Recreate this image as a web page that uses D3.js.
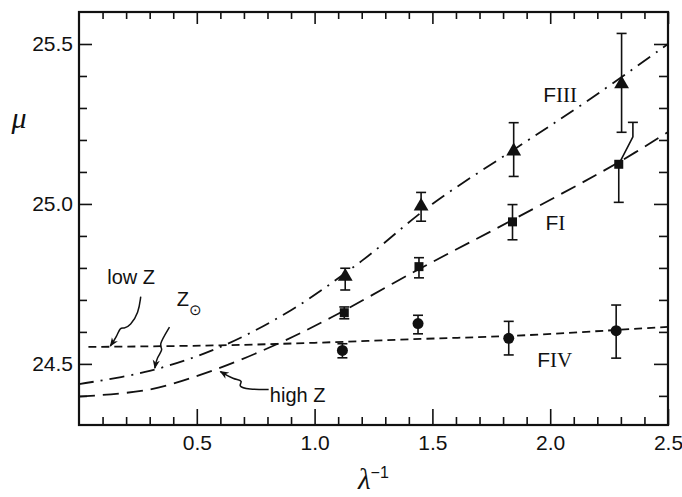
<!DOCTYPE html>
<html>
<head>
<meta charset="utf-8">
<title>mu vs inverse lambda</title>
<script src="https://cdn.jsdelivr.net/npm/d3@7"></script>
<style>
  body { margin: 0; background: #fff; }
  text { fill: #111; }
</style>
</head>
<body>
<div id="graphDiv"></div>
<script>

var width = 682,
    height = 497,
    margin = {top: 12, right: 14, bottom: 72, left: 79};

// data points (x = 1/lambda, y = mu)
var fiX   = [1.126, 1.443, 1.840, 2.291],
    fiY   = [24.660, 24.804, 24.944, 25.124],
    fiLo  = [24.641, 24.769, 24.888, 25.005],
    fiHi  = [24.678, 24.832, 24.998, 25.255];

var fiiiX  = [1.130, 1.452, 1.845, 2.303],
    fiiiY  = [24.773, 24.993, 25.165, 25.375],
    fiiiLo = [24.731, 24.946, 25.086, 25.224],
    fiiiHi = [24.799, 25.036, 25.254, 25.533];

var fivX  = [1.118, 1.439, 1.824, 2.280],
    fivY  = [24.542, 24.626, 24.580, 24.604],
    fivLo = [24.519, 24.594, 24.528, 24.518],
    fivHi = [24.563, 24.652, 24.633, 24.684];

// model curves
var solarX = [0, 0.3, 0.6, 0.9, 1.2, 1.5, 1.85, 2.15, 2.5],
    solarY = [24.437, 24.478, 24.553, 24.668, 24.822, 25.0, 25.172, 25.318, 25.5];

var highZX = [0, 0.3, 0.57, 0.85, 1.07, 1.44, 1.84, 2.29, 2.5],
    highZY = [24.398, 24.42, 24.48, 24.565, 24.645, 24.795, 24.95, 25.13, 25.225];

var lowZX = [0.04, 0.6, 1.0, 1.45, 1.85, 2.5],
    lowZY = [24.553, 24.558, 24.566, 24.578, 24.588, 24.616];

var xMajor = [0.5, 1.0, 1.5, 2.0, 2.5],
    yMajor = [24.5, 25.0, 25.5];

var svg = d3.select('#graphDiv').append('svg')
    .attr('width', width)
    .attr('height', height);

var x = d3.scaleLinear().domain([0, 2.5]).range([margin.left, width - margin.right]);
var y = d3.scaleLinear().domain([24.309, 25.6]).range([height - margin.bottom, margin.top]);

var xMinor = d3.range(1, 25).map(function(i) { return i / 10; })
        .filter(function(v) { return Math.abs(v * 2 - Math.round(v * 2)) > 1e-6; }),
    yMinor = d3.range(244, 256).map(function(i) { return i / 10; })
        .filter(function(v) { return Math.abs(v * 2 - Math.round(v * 2)) > 1e-6; });

function drawAxes() {
    var g = svg.append('g').attr('class', 'axes');
    var bottom = y.range()[0], top = y.range()[1];
    var left = x.range()[0], right = x.range()[1];

    // minor ticks
    g.append('g').attr('transform', 'translate(0,' + bottom + ')')
        .call(d3.axisBottom(x).tickValues(xMinor).tickSizeInner(-8).tickSizeOuter(0).tickFormat(''));
    g.append('g').attr('transform', 'translate(0,' + top + ')')
        .call(d3.axisTop(x).tickValues(xMinor).tickSizeInner(-7).tickSizeOuter(0).tickFormat(''));
    g.append('g').attr('transform', 'translate(' + left + ',0)')
        .call(d3.axisLeft(y).tickValues(yMinor).tickSizeInner(-8).tickSizeOuter(0).tickFormat(''));
    g.append('g').attr('transform', 'translate(' + right + ',0)')
        .call(d3.axisRight(y).tickValues(yMinor).tickSizeInner(-9).tickSizeOuter(0).tickFormat(''));

    // major ticks + labels
    g.append('g').attr('class', 'xlab').attr('transform', 'translate(0,' + bottom + ')')
        .call(d3.axisBottom(x).tickValues(xMajor).tickSizeInner(-16).tickSizeOuter(0)
            .tickPadding(10).tickFormat(d3.format('.1f')));
    g.append('g').attr('transform', 'translate(0,' + top + ')')
        .call(d3.axisTop(x).tickValues(xMajor).tickSizeInner(-12).tickSizeOuter(0).tickFormat(''));
    g.append('g').attr('class', 'ylab').attr('transform', 'translate(' + left + ',0)')
        .call(d3.axisLeft(y).tickValues(yMajor).tickSizeInner(-13).tickSizeOuter(0)
            .tickPadding(6).tickFormat(d3.format('.1f')));
    g.append('g').attr('transform', 'translate(' + right + ',0)')
        .call(d3.axisRight(y).tickValues(yMajor).tickSizeInner(-14).tickSizeOuter(0).tickFormat(''));

    g.selectAll('.domain').remove();
    g.selectAll('line').attr('stroke', '#111').attr('stroke-width', 1.6);
    g.selectAll('text')
        .style('font-family', '"Liberation Sans", Arial, sans-serif')
        .style('font-size', '21px')
        .attr('fill', '#111');

    // frame
    svg.append('rect')
        .attr('x', left).attr('y', top)
        .attr('width', right - left).attr('height', bottom - top)
        .attr('fill', 'none').attr('stroke', '#111').attr('stroke-width', 2.2);

    // axis titles
    svg.append('text')
        .attr('x', 19).attr('y', 128)
        .attr('text-anchor', 'middle')
        .style('font-family', '"Liberation Serif", "DejaVu Serif", serif')
        .style('font-style', 'italic')
        .style('font-size', '30px')
        .text('\u03bc');

    var xt = svg.append('text')
        .attr('x', 358).attr('y', 489)
        .style('font-family', '"Liberation Serif", "DejaVu Serif", serif')
        .style('font-size', '29px');
    xt.append('tspan').style('font-style', 'italic').text('\u03bb');
    xt.append('tspan').attr('dy', -11)
        .style('font-family', '"Liberation Sans", Arial, sans-serif')
        .style('font-size', '16px').text('\u22121');
}

function drawCurves() {
    var line = d3.line()
        .x(function(d) { return x(d[0]); })
        .y(function(d) { return y(d[1]); })
        .curve(d3.curveCatmullRom);

    var curves = [
        {xs: solarX, ys: solarY, dash: '15,7,2,7'},
        {xs: highZX, ys: highZY, dash: '16,8'},
        {xs: lowZX, ys: lowZY, dash: '8,5'}
    ];

    svg.selectAll('.curve')
        .data(curves)
        .enter().append('path')
        .attr('class', 'curve')
        .attr('d', function(c) { return line(d3.zip(c.xs, c.ys)); })
        .attr('fill', 'none')
        .attr('stroke', '#111')
        .attr('stroke-width', 1.8)
        .attr('stroke-dasharray', function(c) { return c.dash; });
}

function errorBars(xs, lo, hi) {
    var g = svg.append('g').attr('stroke', '#111').attr('stroke-width', 1.6);
    var cap = 5;
    xs.forEach(function(v, i) {
        g.append('line').attr('x1', x(v)).attr('x2', x(v)).attr('y1', y(lo[i])).attr('y2', y(hi[i]));
        g.append('line').attr('x1', x(v) - cap).attr('x2', x(v) + cap).attr('y1', y(lo[i])).attr('y2', y(lo[i]));
        g.append('line').attr('x1', x(v) - cap).attr('x2', x(v) + cap).attr('y1', y(hi[i])).attr('y2', y(hi[i]));
    });
}

function drawPoints() {
    errorBars(fiiiX, fiiiLo, fiiiHi);
    errorBars(fivX, fivLo, fivHi);

    // FI: last upper bar is drawn offset to the right with a kink
    var n = fiX.length - 1;
    errorBars(fiX.slice(0, n), fiLo.slice(0, n), fiHi.slice(0, n));
    var capX = 2.351, kinkY = 25.21;
    var g = svg.append('g').attr('stroke', '#111').attr('stroke-width', 1.6).attr('fill', 'none');
    g.append('line').attr('x1', x(fiX[n])).attr('x2', x(fiX[n])).attr('y1', y(fiLo[n])).attr('y2', y(fiY[n]));
    g.append('line').attr('x1', x(fiX[n]) - 5).attr('x2', x(fiX[n]) + 5).attr('y1', y(fiLo[n])).attr('y2', y(fiLo[n]));
    g.append('path').attr('d', d3.line()([
        [x(fiX[n]) + 2, y(fiY[n]) - 4],
        [x(capX), y(kinkY)],
        [x(capX), y(fiHi[n])]
    ]));
    g.append('line').attr('x1', x(capX) - 5).attr('x2', x(capX) + 5).attr('y1', y(fiHi[n])).attr('y2', y(fiHi[n]));

    var tri = d3.symbol().type(d3.symbolTriangle).size(95);
    svg.selectAll('.tri').data(fiiiX).enter().append('path')
        .attr('class', 'tri')
        .attr('d', tri)
        .attr('transform', function(d, i) { return 'translate(' + x(d) + ',' + y(fiiiY[i]) + ')'; })
        .attr('fill', '#111');

    svg.selectAll('.sq').data(fiX).enter().append('rect')
        .attr('class', 'sq')
        .attr('x', function(d) { return x(d) - 4.5; })
        .attr('y', function(d, i) { return y(fiY[i]) - 4.5; })
        .attr('width', 9).attr('height', 9)
        .attr('fill', '#111');

    svg.selectAll('.dot').data(fivX).enter().append('circle')
        .attr('class', 'dot')
        .attr('cx', function(d) { return x(d); })
        .attr('cy', function(d, i) { return y(fivY[i]); })
        .attr('r', 5.5)
        .attr('fill', '#111');
}

function label(xv, yv, parts) {
    var t = svg.append('text')
        .attr('x', x(xv)).attr('y', y(yv))
        .style('font-size', '21px');
    parts.forEach(function(p) {
        t.append('tspan')
            .style('font-family', p[1] ? '"Liberation Serif", serif' : '"Liberation Sans", Arial, sans-serif')
            .text(p[0]);
    });
    return t;
}

function drawAnnotations() {
    label(1.97, 25.32, [['F', 0], ['III', 1]]);
    label(1.98, 24.92, [['F', 0], ['I', 1]]);
    label(1.945, 24.49, [['F', 0], ['IV', 1]]);

    var sans = '"Liberation Sans", Arial, sans-serif';
    svg.append('text').attr('x', x(0.12)).attr('y', y(24.75))
        .style('font-family', sans).style('font-size', '20px').text('low Z');
    var zs = svg.append('text').attr('x', x(0.415)).attr('y', y(24.681))
        .style('font-family', sans).style('font-size', '20px');
    zs.append('tspan').text('Z');
    zs.append('tspan').attr('dy', 9).style('font-size', '15px').text('\u2299');
    svg.append('text').attr('x', x(0.81)).attr('y', y(24.38))
        .style('font-family', sans).style('font-size', '20px').text('high Z');

    svg.append('defs').append('marker')
        .attr('id', 'head')
        .attr('viewBox', '0 0 10 10')
        .attr('refX', 9).attr('refY', 5)
        .attr('markerWidth', 9).attr('markerHeight', 9)
        .attr('markerUnits', 'userSpaceOnUse')
        .attr('orient', 'auto')
        .append('path')
        .attr('d', 'M0,1 L10,5 L0,9 L3,5 Z')
        .attr('fill', '#111');

    var squiggle = d3.line()
        .x(function(d) { return x(d[0]); })
        .y(function(d) { return y(d[1]); })
        .curve(d3.curveBasis);

    var arrows = [
        [[0.262, 24.71], [0.253, 24.66], [0.218, 24.62], [0.19, 24.61], [0.175, 24.615], [0.16, 24.585], [0.133, 24.556]],
        [[0.384, 24.615], [0.335, 24.555], [0.36, 24.548], [0.33, 24.52], [0.322, 24.487]],
        [[0.805, 24.42], [0.72, 24.42], [0.672, 24.43], [0.70, 24.448], [0.655, 24.452], [0.6, 24.476]]
    ];
    svg.selectAll('.arrow').data(arrows).enter().append('path')
        .attr('class', 'arrow')
        .attr('d', squiggle)
        .attr('fill', 'none')
        .attr('stroke', '#111')
        .attr('stroke-width', 1.5)
        .attr('marker-end', 'url(#head)');
}

drawAxes();
drawCurves();
drawPoints();
drawAnnotations();

</script>
</body>
</html>
